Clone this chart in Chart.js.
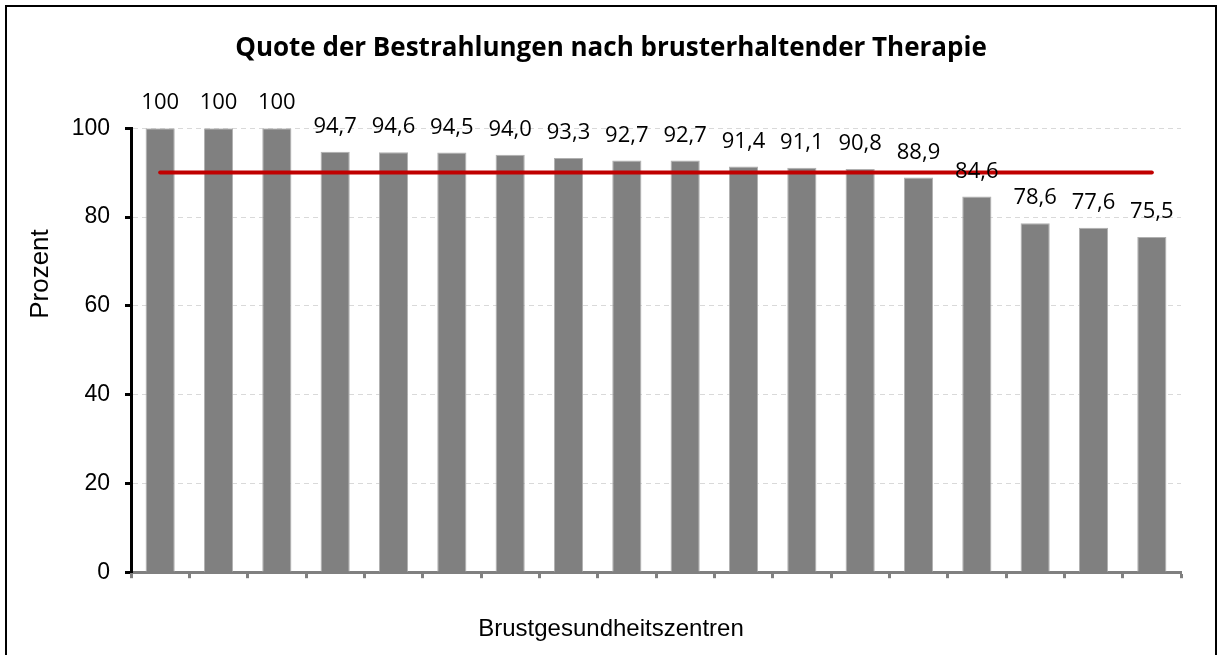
<!DOCTYPE html>
<html lang="de">
<head>
<meta charset="utf-8">
<title>Quote der Bestrahlungen</title>
<script src="https://cdn.jsdelivr.net/npm/chart.js@4"></script>
<style>
  html, body { margin: 0; padding: 0; background: #fff; overflow: hidden; }
  #frame {
    position: absolute; left: 5px; top: 5px; width: 1212px; height: 700px;
    border: 2px solid #000; box-sizing: border-box;
  }
  #chart { position: absolute; left: 0; top: 0; }
</style>
</head>
<body>
<div id="frame"></div>
<canvas id="chart" width="1222" height="655"></canvas>
<script>
// Brustgesundheitszentren (anonym, 18 Zentren)
const zentren = ['', '', '', '', '', '', '', '', '', '', '', '', '', '', '', '', '', ''];
const quoten = [100, 100, 100, 94.7, 94.6, 94.5, 94.0, 93.3, 92.7, 92.7, 91.4, 91.1, 90.8, 88.9, 84.6, 78.6, 77.6, 75.5];
const zielwert = [90, 90, 90, 90, 90, 90, 90, 90, 90, 90, 90, 90, 90, 90, 90, 90, 90, 90];
const yTicks = [0, 20, 40, 60, 80, 100];

const formatWert = v => (v >= 100 ? '100' : v.toFixed(1).replace('.', ','));

// Werte über den Balken
const valueLabels = {
  id: 'valueLabels',
  afterDatasetsDraw(chart) {
    const { ctx } = chart;
    const meta = chart.getDatasetMeta(0);
    ctx.save();
    ctx.font = '22px "Open Sans"';
    ctx.fillStyle = '#000';
    ctx.textAlign = 'center';
    ctx.textBaseline = 'middle';
    meta.data.forEach((bar, i) => {
      ctx.fillText(formatWert(quoten[i]), bar.x, bar.y - 25);
    });
    ctx.restore();
  }
};

// y-Achsentitel (wie im Original etwas oberhalb der Mitte)
const yAxisTitle = {
  id: 'yAxisTitle',
  afterDraw(chart) {
    const { ctx } = chart;
    ctx.save();
    ctx.translate(41, 274);
    ctx.rotate(-Math.PI / 2);
    ctx.font = '26px "Liberation Sans"';
    ctx.fillStyle = '#000';
    ctx.textAlign = 'center';
    ctx.textBaseline = 'middle';
    ctx.fillText('Prozent', 0, 0);
    ctx.restore();
  }
};

Chart.defaults.font.family = '"Liberation Sans", Arial, sans-serif';
Chart.defaults.color = '#000';

new Chart(document.getElementById('chart'), {
  type: 'bar',
  data: {
    labels: zentren,
    datasets: [
      {
        type: 'bar',
        data: quoten,
        backgroundColor: '#808080',
        borderColor: '#B0B0B0',
        borderWidth: 1,
        barPercentage: 0.5,
        categoryPercentage: 1,
        order: 1
      },
      {
        type: 'line',
        data: zielwert,
        borderColor: '#C00000',
        borderWidth: 4,
        borderCapStyle: 'round',
        pointRadius: 0,
        fill: false,
        order: 0
      }
    ]
  },
  options: {
    responsive: false,
    animation: false,
    layout: { padding: { left: 41, right: 41, top: 0, bottom: 0 } },
    plugins: {
      legend: { display: false },
      tooltip: { enabled: false },
      title: {
        display: true,
        text: 'Quote der Bestrahlungen nach brusterhaltender Therapie',
        font: { family: '"Open Sans"', size: 26, weight: 'bold' },
        color: '#000',
        padding: { top: 33, bottom: 64 }
      },
      subtitle: {
        display: true,
        position: 'bottom',
        text: 'Brustgesundheitszentren',
        font: { size: 24 },
        color: '#000',
        padding: { top: 23, bottom: 11 }
      }
    },
    scales: {
      x: {
        offset: true,
        grid: {
          offset: true,
          drawOnChartArea: false,
          drawTicks: true,
          tickLength: 6,
          tickWidth: 3,
          tickColor: '#808080'
        },
        border: { display: true, color: '#808080', width: 3 },
        ticks: { display: false },
        afterFit: s => { s.height = 20; }
      },
      y: {
        min: 0,
        max: 100,
        afterBuildTicks: s => { s.ticks = yTicks.map(v => ({ value: v })); },
        ticks: {
          font: { size: 23 },
          color: '#000',
          padding: 15
        },
        grid: {
          color: c => (c.tick && c.tick.value === 0 ? 'rgba(0,0,0,0)' : '#D9D9D9'),
          lineWidth: 1,
          tickLength: 6,
          tickWidth: 3,
          tickColor: '#000'
        },
        border: { display: true, color: '#000', width: 3, dash: [5, 4] },
        afterFit: s => { s.width = 90; }
      }
    }
  },
  plugins: [valueLabels, yAxisTitle]
});
</script>
</body>
</html>
